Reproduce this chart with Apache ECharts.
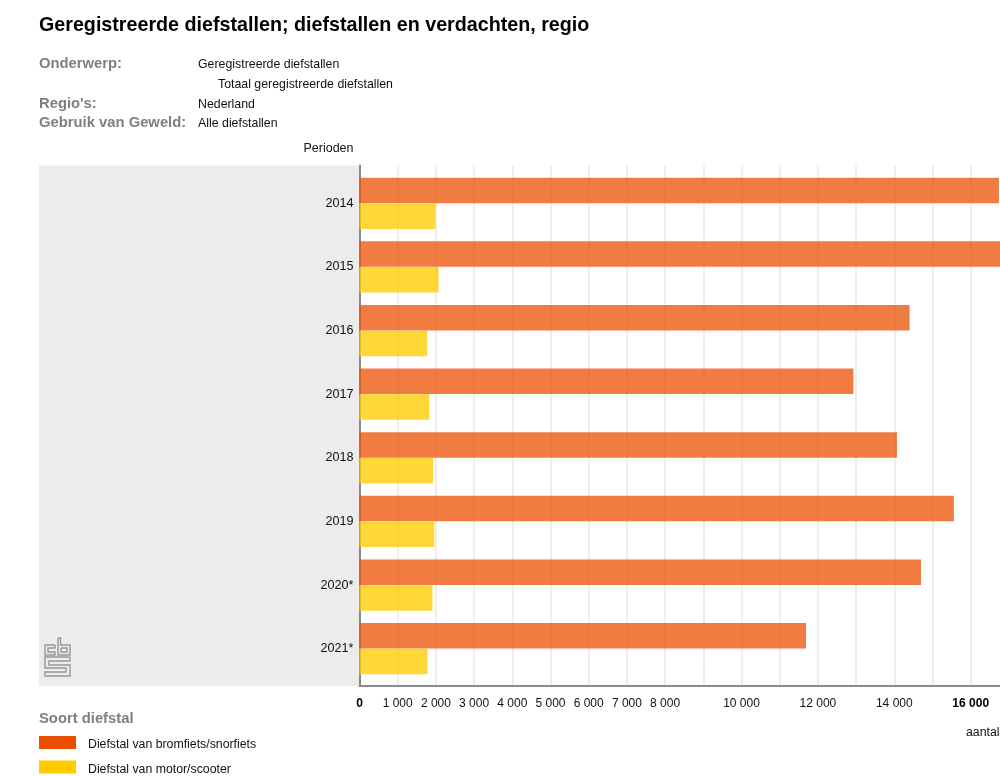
<!DOCTYPE html>
<html><head><meta charset="utf-8">
<style>html,body{margin:0;padding:0;background:#fff}#c{width:1000px;height:776px}</style>
<script src="https://cdn.jsdelivr.net/npm/echarts@6/dist/echarts.min.js"></script>
</head><body><div id="c"></div>
<script>
const periods = ['2014','2015','2016','2017','2018','2019','2020*','2021*'];
const bromfiets = [16740,17200,14400,12930,14070,15560,14700,11690];
const motor = [1990,2070,1770,1830,1925,1960,1910,1780];
const seriesNames = ['Diefstal van bromfiets/snorfiets','Diefstal van motor/scooter'];
const boldTicks = [0,16000];
const meta = [
  ['Onderwerp:',39,64,'Geregistreerde diefstallen',198],
  ['',39,84,'Totaal geregistreerde diefstallen',218],
  ["Regio's:",39,104,'Nederland',198],
  ['Gebruik van Geweld:',39,123,'Alle diefstallen',198]
];
const FONT = '"Liberation Sans", Arimo, Helvetica, Arial, sans-serif';
const xMax = 16767;
function fmt(v){ return String(v).replace(/\B(?=(\d{3})+$)/g,' '); }
const xBase = {min:0,max:xMax,interval:1000};
const metaGraphics = [];
meta.forEach(m=>{
  if(m[0]) metaGraphics.push({type:'text',x:m[1],y:m[2],style:{text:m[0],font:'bold 14.8px '+FONT,fill:'#7f7f7f',verticalAlign:'middle'}});
  metaGraphics.push({type:'text',x:m[4],y:m[2]+1,style:{text:m[3],font:'12.35px '+FONT,fill:'#111',verticalAlign:'middle'}});
});
const logoStyle = {fill:'none',stroke:'#979797',lineWidth:1.4};
const logoShapes = [
  [[55,645],[45,645],[45,655],[55,655],[55,652],[48,652],[48,648],[55,648],[55,645]],
  [[58,638],[60.5,638],[60.5,645],[70,645],[70,655],[58,655],[58,638]],
  [[61,648],[67,648],[67,652],[61,652],[61,648]],
  [[70,657],[45,657],[45,668],[66,668],[66,672],[45,672],[45,676],[70,676],[70,665],[49,665],[49,661],[70,661],[70,657]]
];
const logo = logoShapes.map(p=>({type:'polyline',shape:{points:p},style:logoStyle,z:2}));
const option = {
  animation:false,
  textStyle:{fontFamily:FONT},
  title:{text:'Geregistreerde diefstallen; diefstallen en verdachten, regio',left:34,top:11,
    textStyle:{fontFamily:FONT,fontSize:19.7,fontWeight:'bold',color:'#000'}},
  legend:{left:39,top:736,height:80,padding:0,orient:'vertical',itemWidth:37,itemHeight:13,itemGap:9.5,
    icon:'rect',selectedMode:false,
    data:seriesNames.map(n=>({name:n,itemStyle:{opacity:1}})),
    formatter:n=>'{t|'+n+'}',
    textStyle:{fontFamily:FONT,fontSize:12.3,color:'#111',padding:[0,0,0,7],
      rich:{t:{fontFamily:FONT,fontSize:12.3,color:'#111',padding:[5,0,0,0]}}}},
  grid:[
    {left:359.5,top:165.5,width:640.5,height:520.5,outerBoundsMode:'none'},
    {left:359.5,top:171.5,width:640.5,height:509,outerBoundsMode:'none'}
  ],
  xAxis:[
    {...xBase,type:'value',gridIndex:0,
      name:'aantal',nameLocation:'end',nameGap:-34,
      nameTextStyle:{fontFamily:FONT,fontSize:12.3,color:'#111',align:'left',verticalAlign:'top',padding:[41,0,0,0]},
      axisLine:{show:true,onZero:false,lineStyle:{color:'#8a8a8a',width:2}},axisTick:{show:false},
      splitLine:{show:true,showMaxLine:false,lineStyle:{color:'#eeeeee',width:2}},
      axisLabel:{margin:12,color:'#111',fontSize:12,fontFamily:FONT,showMaxLabel:false,hideOverlap:false,interval:0,
        formatter:v=>{
          if(v%1000!==0||(v>8000&&v%2000!==0)) return '';
          return boldTicks.includes(v)?'{b|'+fmt(v)+'}':fmt(v);
        },
        rich:{b:{fontWeight:'bold',fontSize:12,color:'#000',fontFamily:FONT}}}},
    {...xBase,type:'value',gridIndex:1,show:false,splitLine:{show:false}}
  ],
  yAxis:[
    {type:'category',gridIndex:0,data:[''],
      name:'Perioden',nameLocation:'end',nameGap:10,
      nameTextStyle:{fontFamily:FONT,fontSize:12.5,color:'#111',align:'right',padding:[0,6,0,0]},
      axisLine:{show:true,lineStyle:{color:'#8a8a8a',width:2}},axisTick:{show:false},axisLabel:{show:false}},
    {type:'category',gridIndex:1,data:periods,inverse:true,
      axisLine:{show:false},axisTick:{show:false},
      axisLabel:{margin:6,color:'#111',fontSize:12.6,fontFamily:FONT}}
  ],
  series:[
    {name:seriesNames[0],type:'bar',data:bromfiets,xAxisIndex:1,yAxisIndex:1,barWidth:25.5,barGap:'1%',
      itemStyle:{color:'#ec4e00',opacity:0.74},z:3},
    {name:seriesNames[1],type:'bar',data:motor,xAxisIndex:1,yAxisIndex:1,barWidth:25.5,barGap:'1%',
      itemStyle:{color:'#ffcc00',opacity:0.78},z:3}
  ],
  graphic:[
    {type:'rect',shape:{x:39,y:165.5,width:320,height:520.5},style:{fill:'#ececec'},z:-10},
    {type:'text',x:39,y:719,style:{text:'Soort diefstal',font:'bold 14.8px '+FONT,fill:'#7f7f7f',verticalAlign:'middle'}},
    ...metaGraphics,...logo
  ]
};
const chart = echarts.init(document.getElementById('c'),null,{renderer:'canvas'});
chart.setOption(option);
</script></body></html>
